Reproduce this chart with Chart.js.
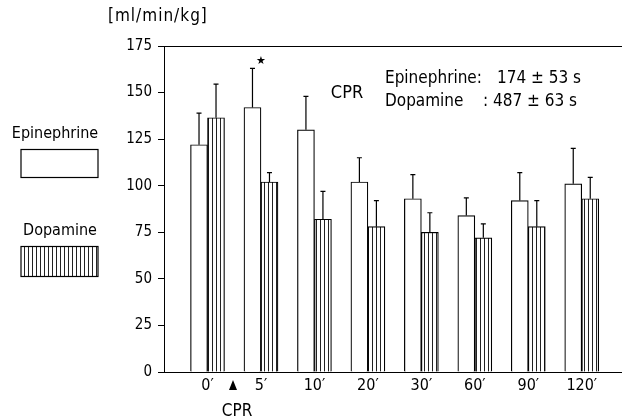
<!DOCTYPE html>
<html>
<head>
<meta charset="utf-8">
<script src="https://cdn.jsdelivr.net/npm/chart.js@4.4.1/dist/chart.umd.min.js"></script>
<style>
  html, body { margin: 0; padding: 0; background: #fff; }
</style>
</head>
<body>
<canvas id="chart" width="622" height="420"></canvas>
<script>
// time points (minutes after CPR)
const categories = ["0′", "5′", "10′", "20′", "30′", "60′", "90′", "120′"];
const epinephrine = [122, 142, 130, 102, 93, 84, 92, 101];
const epinephrineErr = [17, 21, 18, 13, 13, 9.5, 15, 19];
const dopamine = [136.5, 102, 82, 78, 75, 72, 78, 93];
const dopamineErr = [18, 5, 15, 14, 10.5, 7.5, 14, 11.5];
const yTicks = [0, 25, 50, 75, 100, 125, 150, 175];

const FONT = '"DejaVu Sans Condensed", "Liberation Sans Narrow", "DejaVu Sans", sans-serif';

// vertical hatching for the dopamine bars
function makeHatch() {
  const c = document.createElement("canvas");
  c.width = 4; c.height = 4;
  const g = c.getContext("2d");
  g.fillStyle = "#fff";
  g.fillRect(0, 0, 4, 4);
  g.fillStyle = "#222";
  g.fillRect(0, 0, 1, 4);
  return g.createPattern(c, "repeat");
}
const hatch = makeHatch();

const extras = {
  id: "extras",
  afterDatasetsDraw(chart) {
    const ctx = chart.ctx;
    const y = chart.scales.y;
    const area = chart.chartArea;
    const errs = [epinephrineErr, dopamineErr];
    const vals = [epinephrine, dopamine];
    ctx.save();
    ctx.strokeStyle = "#000";
    ctx.lineWidth = 1.2;
    // upward error bars
    chart.data.datasets.forEach((ds, d) => {
      chart.getDatasetMeta(d).data.forEach((bar, i) => {
        const top = y.getPixelForValue(vals[d][i] + errs[d][i]);
        ctx.beginPath();
        ctx.moveTo(bar.x, bar.y);
        ctx.lineTo(bar.x, top);
        ctx.moveTo(bar.x - 2.5, top);
        ctx.lineTo(bar.x + 2.5, top);
        ctx.stroke();
      });
    });
    // top frame line
    ctx.lineWidth = 1;
    const yt = Math.round(y.getPixelForValue(175)) + 0.5;
    ctx.beginPath();
    ctx.moveTo(area.left, yt);
    ctx.lineTo(area.right, yt);
    ctx.stroke();

    ctx.fillStyle = "#000";
    ctx.textBaseline = "middle";
    // unit
    ctx.font = "17px " + FONT;
    ctx.textAlign = "left";
    ctx.letterSpacing = "1px";
    ctx.fillText("[ml/min/kg]", 108, 17);
    ctx.letterSpacing = "0px";

    // legend
    ctx.font = "16px " + FONT;
    ctx.textAlign = "center";
    ctx.fillText("Epinephrine", 55, 134);
    ctx.fillText("Dopamine", 60, 231);
    ctx.lineWidth = 1.2;
    ctx.fillStyle = "#fff";
    ctx.fillRect(21, 149.5, 77, 28);
    ctx.strokeRect(21, 149.5, 77, 28);
    ctx.fillStyle = hatch;
    ctx.fillRect(21, 246.5, 77, 30);
    ctx.strokeRect(21, 246.5, 77, 30);

    // annotations
    ctx.fillStyle = "#000";
    ctx.font = "18px " + FONT;
    ctx.fillText("CPR", 347, 93);
    ctx.font = "17px " + FONT;
    ctx.textAlign = "left";
    ctx.fillText("Epinephrine:", 385, 79);
    ctx.fillText("174 ± 53 s", 497, 79);
    ctx.fillText("Dopamine", 385, 102);
    ctx.fillText(":", 483, 102);
    ctx.fillText("487 ± 63 s", 493, 102);

    // significance star
    ctx.font = "11px DejaVu Sans";
    ctx.textAlign = "center";
    ctx.fillText("★", 261, 61);

    // CPR marker under axis
    ctx.beginPath();
    ctx.moveTo(229, 390);
    ctx.lineTo(237, 390);
    ctx.lineTo(233, 380);
    ctx.closePath();
    ctx.fill();
    ctx.font = "17px " + FONT;
    ctx.fillText("CPR", 237, 412);
    ctx.restore();
  }
};

new Chart(document.getElementById("chart"), {
  type: "bar",
  data: {
    datasets: [
      {
        label: "Epinephrine",
        data: epinephrine.map((v, i) => ({ x: i, y: v })),
        backgroundColor: "#fff",
        borderColor: "#000",
        borderWidth: 1.2,
        barThickness: 17,
      },
      {
        label: "Dopamine",
        data: dopamine.map((v, i) => ({ x: i, y: v })),
        backgroundColor: hatch,
        borderColor: "#000",
        borderWidth: 1.2,
        barThickness: 17,
      },
    ],
  },
  options: {
    responsive: false,
    animation: false,
    devicePixelRatio: 1,
    layout: { padding: { top: 46, right: 0, bottom: 0, left: 0 } },
    plugins: { legend: { display: false }, tooltip: { enabled: false } },
    scales: {
      x: {
        type: "linear",
        offset: false,
        min: -0.814,
        max: 7.753,
        grid: { display: false, drawTicks: false },
        border: { display: true, color: "#000", width: 1 },
        afterBuildTicks: (s) => { s.ticks = categories.map((c, i) => ({ value: i })); },
        afterFit: (s) => { s.height = 48; },
        ticks: {
          color: "#000",
          padding: 4,
          maxRotation: 0,
          font: { family: FONT, size: 16 },
          callback: (v) => categories[v],
        },
      },
      y: {
        min: 0,
        max: 175,
        afterBuildTicks: (s) => { s.ticks = yTicks.map((v) => ({ value: v })); },
        afterFit: (s) => { s.width = 164; },
        grid: { drawOnChartArea: false, drawTicks: true, tickLength: 6, color: "#000" },
        border: { display: true, color: "#000", width: 1 },
        ticks: {
          color: "#000",
          padding: 6,
          font: { family: FONT, size: 15 },
        },
      },
    },
  },
  plugins: [extras],
});
</script>
</body>
</html>
